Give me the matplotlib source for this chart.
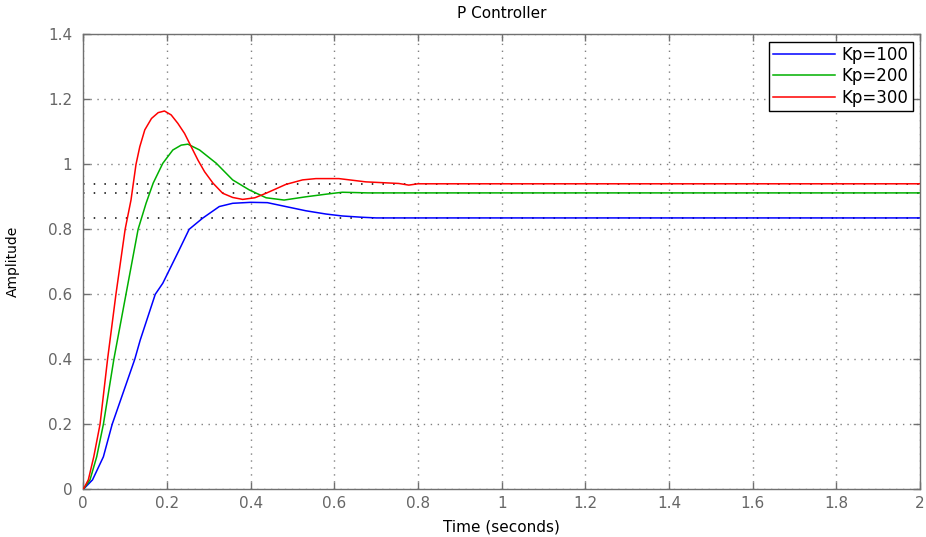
import matplotlib
matplotlib.use("Agg")
import matplotlib.pyplot as plt

# ---- data ----
t_kp100 = [0, 0.022, 0.048, 0.069, 0.123, 0.136, 0.172, 0.190, 0.229, 0.253, 0.285,
           0.325, 0.357, 0.400, 0.440, 0.484, 0.532, 0.580, 0.619, 0.667, 0.700, 2.0]
y_kp100 = [0, 0.029, 0.100, 0.200, 0.400, 0.459, 0.600, 0.634, 0.736, 0.800, 0.834,
           0.870, 0.880, 0.883, 0.882, 0.870, 0.857, 0.847, 0.841, 0.837, 0.835, 0.835]

t_kp200 = [0, 0.016, 0.032, 0.048, 0.073, 0.102, 0.131, 0.150, 0.167, 0.190, 0.214, 0.234,
           0.250, 0.278, 0.318, 0.357, 0.397, 0.437, 0.480, 0.532, 0.580, 0.619, 0.651, 0.680, 2.0]
y_kp200 = [0, 0.029, 0.100, 0.200, 0.400, 0.600, 0.800, 0.880, 0.942, 1.003, 1.044, 1.059,
           1.062, 1.044, 1.003, 0.952, 0.921, 0.897, 0.890, 0.900, 0.908, 0.914, 0.913, 0.912, 0.912]

t_kp300 = [0, 0.012, 0.025, 0.040, 0.058, 0.078, 0.100, 0.114, 0.126, 0.135, 0.147, 0.163,
           0.179, 0.194, 0.210, 0.226, 0.242, 0.258, 0.274, 0.290, 0.310, 0.333, 0.357, 0.381,
           0.410, 0.437, 0.484, 0.524, 0.556, 0.611, 0.675, 0.754, 0.778, 0.800, 2.0]
y_kp300 = [0, 0.029, 0.100, 0.200, 0.400, 0.600, 0.800, 0.890, 1.000, 1.054, 1.106, 1.141,
           1.159, 1.164, 1.152, 1.126, 1.095, 1.054, 1.013, 0.977, 0.942, 0.911, 0.898, 0.892,
           0.897, 0.911, 0.938, 0.952, 0.956, 0.956, 0.946, 0.941, 0.936, 0.940, 0.940]

steady_states = [0.835, 0.912, 0.940]
labels = ["Kp=100", "Kp=200", "Kp=300"]
colors = ["#0000ff", "#00b000", "#ff0000"]

x_ticks = [0, 0.2, 0.4, 0.6, 0.8, 1, 1.2, 1.4, 1.6, 1.8, 2]
x_tick_labels = ["0", "0.2", "0.4", "0.6", "0.8", "1", "1.2", "1.4", "1.6", "1.8", "2"]
y_ticks = [0, 0.2, 0.4, 0.6, 0.8, 1, 1.2, 1.4]
y_tick_labels = ["0", "0.2", "0.4", "0.6", "0.8", "1", "1.2", "1.4"]

plt.rcParams['font.family'] = ['DejaVu Sans']
fig = plt.figure(figsize=(9.26, 5.37), dpi=100)
ax = fig.add_axes([83.3 / 926, 1 - 489.3 / 537, (920.0 - 83.3) / 926, (489.3 - 34.3) / 537])

axis_gray = "#707070"

# steady-state dotted lines
for ss in steady_states:
    ax.axhline(ss, color="black", linestyle=(0, (1, 6)), linewidth=1.1, zorder=1.5)

series = [(t_kp100, y_kp100), (t_kp200, y_kp200), (t_kp300, y_kp300)]
for (tt, yy), lab, col in zip(series, labels, colors):
    ax.plot(tt, yy, color=col, linewidth=1.1, label=lab, zorder=3)

ax.set_xlim(0, 2)
ax.set_ylim(0, 1.4)
ax.set_xticks(x_ticks)
ax.set_xticklabels(x_tick_labels)
ax.set_yticks(y_ticks)
ax.set_yticklabels(y_tick_labels)

ax.grid(True, color="#808080", linestyle=(0, (1, 4)), linewidth=1.0, zorder=1)
ax.set_axisbelow(True)

for sp in ax.spines.values():
    sp.set_color(axis_gray)
    sp.set_linewidth(1.0)

ax.tick_params(direction="in", length=5, width=1, colors=axis_gray,
               labelcolor="#666666", labelsize=11, top=True, right=True)
ax.tick_params(axis="y", pad=8)
ax.tick_params(axis="x", pad=5)

ax.set_title("P Controller", fontsize=11, color="black", pad=12)
ax.set_xlabel("Time (seconds)", fontsize=11, color="black", labelpad=6)
ax.set_ylabel("Amplitude", fontsize=10, color="black", labelpad=20)

leg = ax.legend(loc="upper right", fontsize=12, handlelength=3.7, frameon=True,
                fancybox=False, framealpha=1, edgecolor="black",
                borderaxespad=0.45, borderpad=0.25, labelspacing=0.2, handletextpad=0.4)
leg.get_frame().set_linewidth(1.0)

fig.savefig("out.png", dpi=100)
